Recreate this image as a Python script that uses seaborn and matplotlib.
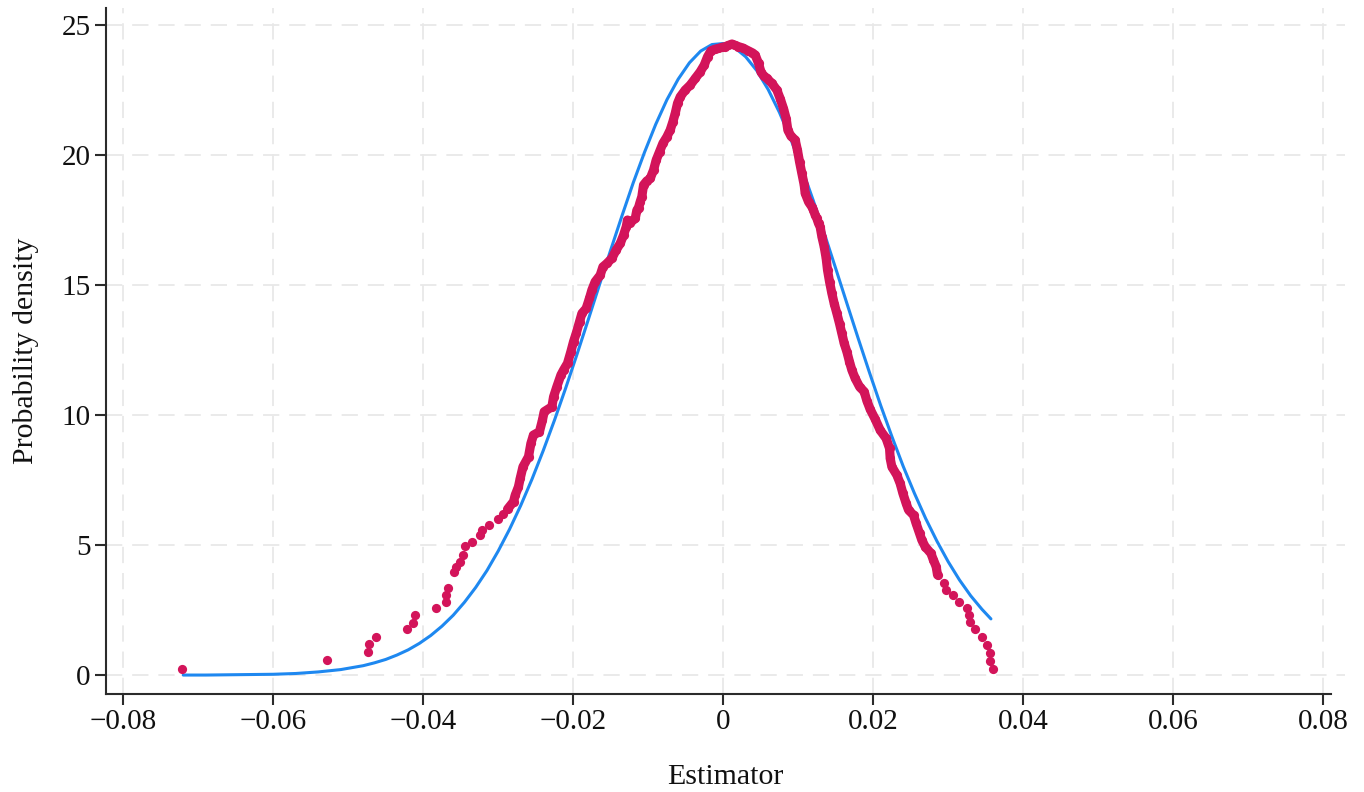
import numpy as np
import pandas as pd
import seaborn as sns
import matplotlib.pyplot as plt

# kernel density evaluated at each estimate (red dots)
kd_x = [
    -0.07218, -0.05284, -0.04737, -0.04720, -0.04636, -0.04210, -0.04130, -0.04116,
    -0.03827, -0.03700, -0.03700, -0.03670, -0.03596, -0.03560, -0.03507, -0.03470,
    -0.03440, -0.03351, -0.03240, -0.03220, -0.03129, -0.03004, -0.02930, -0.02876,
    -0.02796, -0.02773, -0.02730, -0.02707, -0.02670, -0.02596, -0.02564, -0.02530,
    -0.02450, -0.02410, -0.02387, -0.02284, -0.02262, -0.02218, -0.02164, -0.02129,
    -0.02076, -0.02031, -0.01996, -0.01960, -0.01916, -0.01884, -0.01827, -0.01783,
    -0.01751, -0.01707, -0.01640, -0.01604, -0.01551, -0.01484, -0.01427, -0.01373,
    -0.01329, -0.01293, -0.01276, -0.01240, -0.01173, -0.01151, -0.01129, -0.01107,
    -0.01085, -0.01062, -0.01020, -0.00973, -0.00929, -0.00893, -0.00849, -0.00804,
    -0.00751, -0.00707, -0.00671, -0.00640, -0.00609, -0.00573, -0.00507, -0.00440,
    -0.00373, -0.00307, -0.00253, -0.00209, -0.00164, -0.00110, -0.00063, -0.00020,
    0.00027, 0.00070, 0.00116, 0.00160, 0.00204, 0.00260, 0.00337, 0.00390,
    0.00427, 0.00471, 0.00503, 0.00540, 0.00583, 0.00649, 0.00716, 0.00760,
    0.00804, 0.00840, 0.00862, 0.00903, 0.00960, 0.00990, 0.01018, 0.01049,
    0.01080, 0.01093, 0.01138, 0.01182, 0.01204, 0.01227, 0.01249, 0.01271,
    0.01293, 0.01316, 0.01347, 0.01373, 0.01391, 0.01418, 0.01449, 0.01480,
    0.01516, 0.01551, 0.01582, 0.01613, 0.01649, 0.01684, 0.01716, 0.01760,
    0.01818, 0.01880, 0.01916, 0.01960, 0.02027, 0.02093, 0.02173, 0.02218,
    0.02227, 0.02249, 0.02316, 0.02360, 0.02396, 0.02440, 0.02471, 0.02538,
    0.02573, 0.02618, 0.02649, 0.02693, 0.02770, 0.02804, 0.02840, 0.02858,
    0.02938, 0.02973, 0.03062, 0.03138, 0.03249, 0.03271, 0.03293, 0.03360,
    0.03449, 0.03524, 0.03560, 0.03560, 0.03596,
]
kd_y = [
    0.22, 0.57, 0.88, 1.19, 1.47, 1.76, 2.02, 2.31,
    2.56, 2.82, 3.08, 3.33, 3.97, 4.15, 4.36, 4.62,
    4.97, 5.13, 5.38, 5.58, 5.77, 5.99, 6.19, 6.38,
    6.67, 6.92, 7.24, 7.56, 8.01, 8.40, 8.91, 9.23,
    9.36, 9.81, 10.13, 10.32, 10.70, 11.09, 11.54, 11.73,
    11.99, 12.44, 12.82, 13.14, 13.59, 13.91, 14.10, 14.49,
    14.81, 15.13, 15.38, 15.70, 15.83, 16.03, 16.35, 16.60,
    16.92, 17.24, 17.50, 17.40, 17.56, 17.88, 17.98, 18.20,
    18.40, 18.85, 19.00, 19.10, 19.42, 19.81, 20.13, 20.45,
    20.70, 20.96, 21.28, 21.60, 21.99, 22.24, 22.50, 22.69,
    22.95, 23.20, 23.46, 23.78, 24.01, 24.07, 24.10, 24.14,
    24.17, 24.22, 24.27, 24.22, 24.17, 24.12, 24.01, 23.93,
    23.85, 23.53, 23.20, 23.05, 22.95, 22.76, 22.50, 22.17,
    21.79, 21.40, 20.96, 20.73, 20.58, 20.19, 19.74, 19.30,
    18.85, 18.53, 18.20, 18.01, 17.88, 17.69, 17.56, 17.37,
    17.24, 16.86, 16.47, 16.03, 15.58, 15.13, 14.68, 14.29,
    13.91, 13.52, 13.14, 12.76, 12.44, 12.05, 11.73, 11.41,
    11.09, 10.90, 10.55, 10.22, 9.84, 9.42, 9.10, 8.72,
    8.33, 8.01, 7.69, 7.37, 6.99, 6.60, 6.35, 6.15,
    5.83, 5.45, 5.19, 4.94, 4.68, 4.42, 4.17, 3.85,
    3.55, 3.29, 3.08, 2.82, 2.56, 2.31, 2.05, 1.76,
    1.47, 1.15, 0.86, 0.55, 0.22,
]

# normal density curve (blue)
norm_x = [
    -0.0720, -0.0690, -0.0660, -0.0630, -0.0600, -0.0570, -0.0540, -0.0510,
    -0.0480, -0.0465, -0.0450, -0.0435, -0.0420, -0.0405, -0.0390, -0.0375,
    -0.0360, -0.0345, -0.0330, -0.0315, -0.0300, -0.0285, -0.0270, -0.0255,
    -0.0240, -0.0225, -0.0210, -0.0195, -0.0180, -0.0165, -0.0150, -0.0135,
    -0.0120, -0.0105, -0.0090, -0.0075, -0.0060, -0.0045, -0.0030, -0.0015,
    0.0000, 0.0015, 0.0030, 0.0045, 0.0060, 0.0075, 0.0090, 0.0105,
    0.0120, 0.0135, 0.0150, 0.0165, 0.0180, 0.0195, 0.0210, 0.0225,
    0.0240, 0.0255, 0.0270, 0.0285, 0.0300, 0.0315, 0.0330, 0.0345,
    0.0357,
]
norm_y = [
    0.00, 0.00, 0.01, 0.02, 0.03, 0.06, 0.12, 0.21,
    0.36, 0.47, 0.60, 0.77, 0.97, 1.22, 1.52, 1.88,
    2.30, 2.80, 3.37, 4.02, 4.77, 5.60, 6.52, 7.53,
    8.63, 9.80, 11.04, 12.33, 13.66, 15.01, 16.35, 17.66,
    18.93, 20.10, 21.18, 22.13, 22.92, 23.55, 24.00, 24.25,
    24.29, 24.14, 23.78, 23.24, 22.52, 21.64, 20.62, 19.48,
    18.26, 16.97, 15.64, 14.29, 12.95, 11.64, 10.37, 9.17,
    8.03, 6.99, 6.02, 5.15, 4.36, 3.66, 3.05, 2.53,
    2.16,
]

x_ticks = [-0.08, -0.06, -0.04, -0.02, 0, 0.02, 0.04, 0.06, 0.08]
x_tick_labels = ["\u22120.08", "\u22120.06", "\u22120.04", "\u22120.02", "0",
                 "0.02", "0.04", "0.06", "0.08"]
y_ticks = [0, 5, 10, 15, 20, 25]

sns.set_theme(style="white")
plt.rcParams["font.family"] = ["Liberation Serif", "DejaVu Serif"]

RED = "#D3145A"
BLUE = "#1E88F0"

kd = pd.DataFrame({"Estimator": kd_x, "density": kd_y})
nd = pd.DataFrame({"Estimator": norm_x, "density": norm_y})
# where the dots pile up into a solid band
band = kd[(kd["Estimator"] >= -0.0288) & (kd["Estimator"] <= 0.0286)]

fig = plt.figure(figsize=(13.64, 7.92), dpi=100)
ax = fig.add_axes([0.0777, 0.1237, 0.9083, 0.866])

sns.lineplot(data=nd, x="Estimator", y="density", sort=False, estimator=None,
             color=BLUE, linewidth=2.2, ax=ax, zorder=3)
sns.lineplot(data=band, x="Estimator", y="density", sort=False, estimator=None,
             color=RED, linewidth=6.6, solid_capstyle="round",
             solid_joinstyle="round", ax=ax, zorder=4)
sns.scatterplot(data=kd, x="Estimator", y="density", color=RED,
                s=44, linewidth=0, ax=ax, zorder=5)

ax.set_xlim(-0.0823, 0.0829)
ax.set_ylim(-0.73, 25.65)
ax.set_xticks(x_ticks)
ax.set_xticklabels(x_tick_labels)
ax.set_yticks(y_ticks)

ax.grid(True, color="#E8E8E8", linewidth=1.3, linestyle=(0, (9, 5.5)))
ax.set_axisbelow(True)

for side in ["top", "right"]:
    ax.spines[side].set_visible(False)
for side in ["left", "bottom"]:
    ax.spines[side].set_color("#2b2b2b")
    ax.spines[side].set_linewidth(1.5)
ax.spines["bottom"].set_bounds(-0.0823, 0.081)

ax.tick_params(axis="both", direction="out", length=8, width=1.5,
               color="#2b2b2b", labelsize=21, labelcolor="#111111", pad=3,
               bottom=True, left=True)

ax.set_xlabel("Estimator", fontsize=21.5, color="#111111")
ax.set_ylabel("Probability density", fontsize=21.5, color="#111111")
ax.xaxis.set_label_coords(0.5, -0.102)
ax.yaxis.set_label_coords(-0.0646, 0.5)
ax.yaxis.label.set_va("center")

fig.savefig("out.png", dpi=100, facecolor="white")
